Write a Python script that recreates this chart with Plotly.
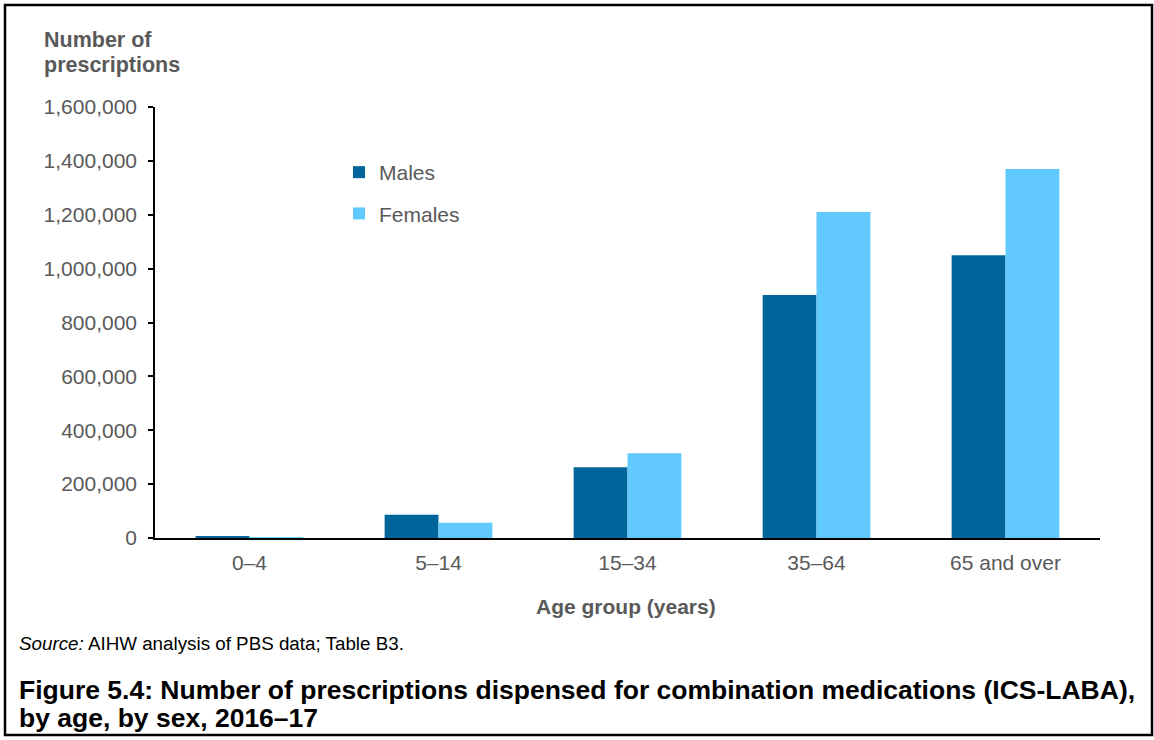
import plotly.graph_objects as go

# ---- data ----
age_groups = ["0–4", "5–14", "15–34", "35–64", "65 and over"]
males = [5000, 86000, 263000, 902000, 1050000]
females = [2000, 57000, 315000, 1210000, 1370000]
y_ticks = [0, 200000, 400000, 600000, 800000, 1000000, 1200000, 1400000, 1600000]

MALE_C = "#00659A"
FEMALE_C = "#62C9FF"
GREY = "#595959"
FONT = "Liberation Sans, Arial, sans-serif"

W, H = 1154, 740
L, R, T, B = 155, 1100, 107, 538  # plot area pixels


def px(x):
    return (x - L) / (R - L)


def py(y):
    return (B - y) / (B - T)


fig = go.Figure()
fig.add_trace(go.Bar(x=age_groups, y=males, name="Males", marker_color=MALE_C,
                     marker_line_width=0, legendgroup="m"))
fig.add_trace(go.Bar(x=age_groups, y=females, name="Females", marker_color=FEMALE_C,
                     marker_line_width=0, legendgroup="f"))

fig.update_layout(
    width=W, height=H,
    margin=dict(l=L, r=W - R, t=T, b=H - B, pad=0),
    paper_bgcolor="white", plot_bgcolor="white",
    barmode="group", bargap=0.43, bargroupgap=0,
    font=dict(family=FONT, size=21, color=GREY),
    showlegend=True,
    legend=dict(x=px(339), y=py(152), xanchor="left", yanchor="top",
                bgcolor="rgba(0,0,0,0)", font=dict(size=21, color=GREY),
                traceorder="grouped", tracegroupgap=11, itemwidth=30),
)

fig.update_yaxes(
    range=[0, 1600000], tickvals=y_ticks, tickformat=",d",
    showgrid=False, zeroline=False,
    showline=True, linecolor="black", linewidth=1.5,
    ticks="outside", ticklen=5, tickcolor="black", tickwidth=1.5,
    tickfont=dict(size=21, color=GREY), ticklabelstandoff=7,
)
fig.update_xaxes(
    showgrid=False, zeroline=False,
    showline=True, linecolor="black", linewidth=1.5,
    ticks="", tickfont=dict(size=21, color=GREY), ticklabelstandoff=5,
)

annotations = [
    dict(text="<b>Number of</b>", x=px(42), y=py(40),
         xanchor="left", yanchor="middle", font=dict(size=21.5, color=GREY), showarrow=False),
    dict(text="<b>prescriptions</b>", x=px(42), y=py(65),
         xanchor="left", yanchor="middle", font=dict(size=21.5, color=GREY), showarrow=False),
    dict(text="<b>Age group (years)</b>", x=px(626), y=py(606),
         xanchor="center", yanchor="middle",
         font=dict(size=21, color=GREY), showarrow=False),
    dict(text="<i>Source:</i> AIHW analysis of PBS data; Table B3.", x=px(17), y=py(643),
         xanchor="left", yanchor="middle",
         font=dict(size=18.8, color="black"), showarrow=False),
    dict(text="<b>Figure 5.4: Number of prescriptions dispensed for combination medications (ICS-LABA),</b>",
         x=px(17), y=py(690), xanchor="left", yanchor="middle",
         font=dict(size=26.5, color="black"), showarrow=False),
    dict(text="<b>by age, by sex, 2016–17</b>",
         x=px(17), y=py(718), xanchor="left", yanchor="middle",
         font=dict(size=26.5, color="black"), showarrow=False),
]
for a in annotations:
    a.update(xref="paper", yref="paper")
fig.update_layout(annotations=annotations)

fig.add_shape(type="rect", xref="paper", yref="paper",
              x0=px(5), x1=px(1152), y0=py(735), y1=py(5),
              line=dict(color="black", width=2.5), fillcolor="rgba(0,0,0,0)", layer="above")

fig.write_html("out.html", config={"displayModeBar": False},
               post_script="document.body.style.margin='0';document.body.style.padding='0';")
